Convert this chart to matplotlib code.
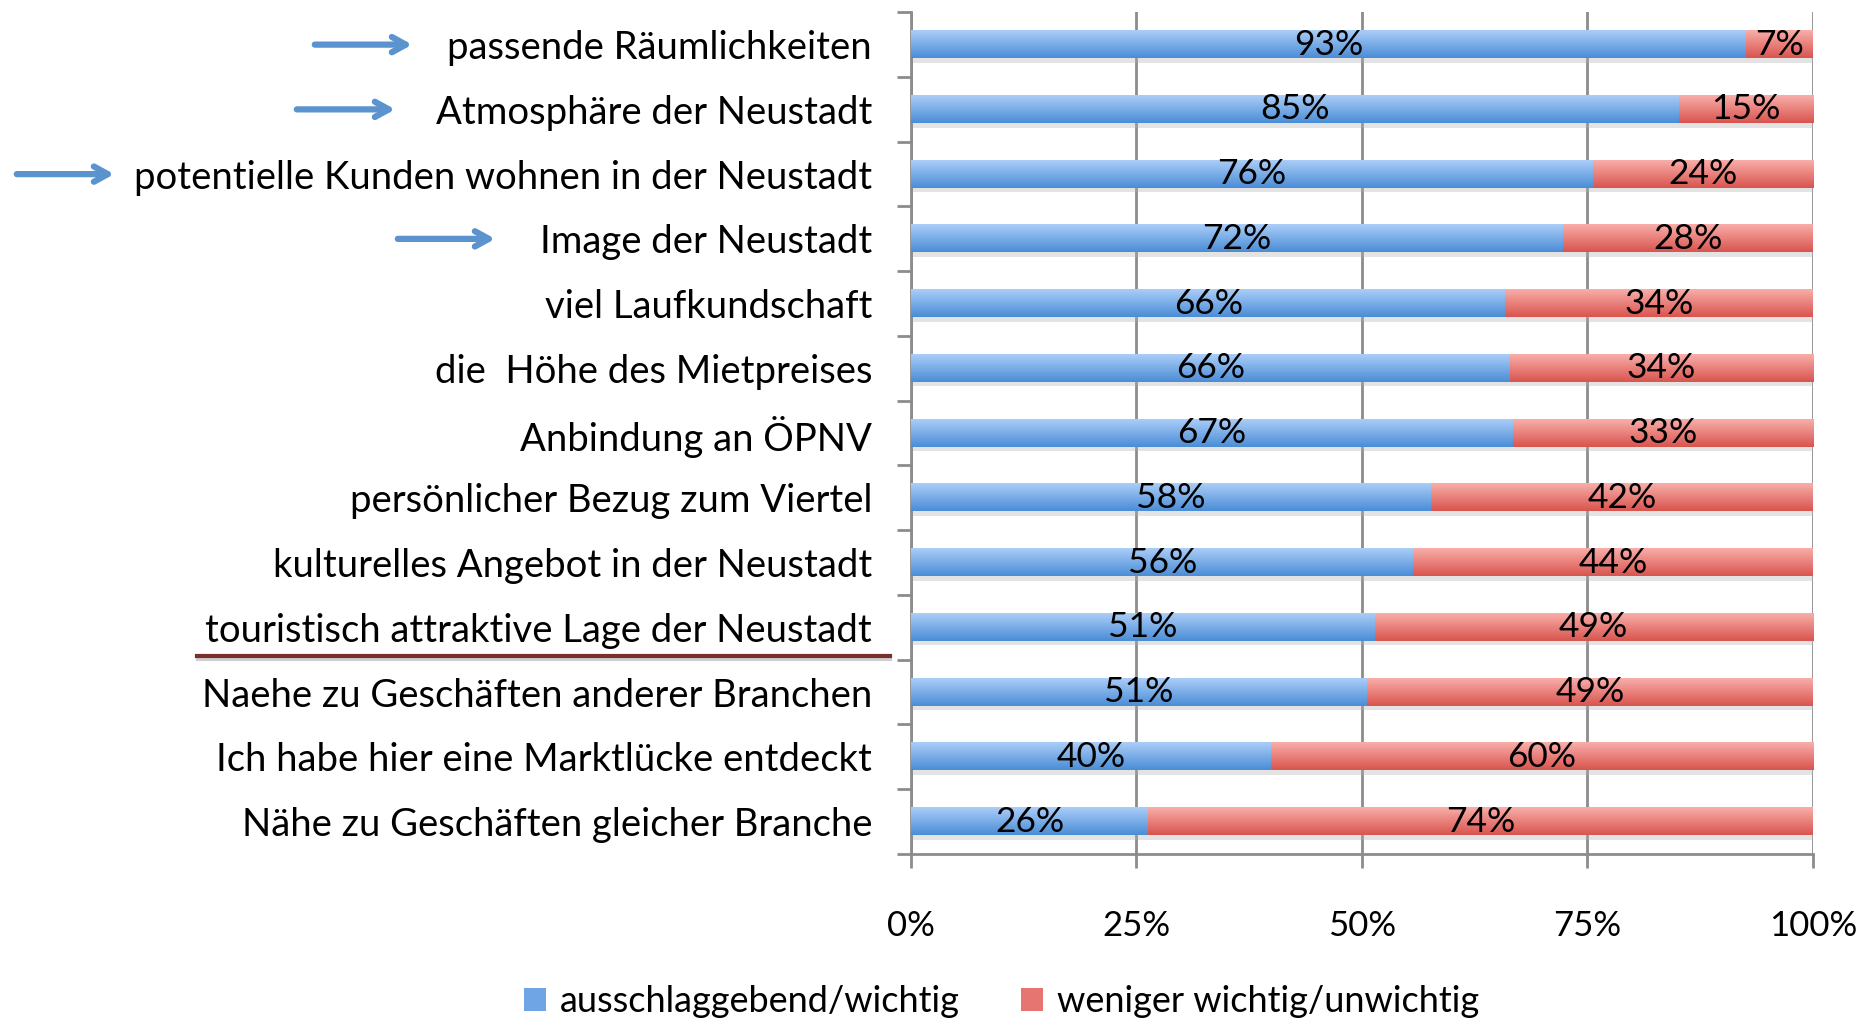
import numpy as np
import matplotlib
matplotlib.use("Agg")
import matplotlib.pyplot as plt
from matplotlib.patches import Patch
from matplotlib.lines import Line2D
from matplotlib.colors import to_rgb

plt.rcParams['font.family'] = ['Lato', 'DejaVu Sans']

categories = ["passende Räumlichkeiten",
              "Atmosphäre der Neustadt",
              "potentielle Kunden wohnen in der Neustadt",
              "Image der Neustadt",
              "viel Laufkundschaft",
              "die  Höhe des Mietpreises",
              "Anbindung an ÖPNV",
              "persönlicher Bezug zum Viertel",
              "kulturelles Angebot in der Neustadt",
              "touristisch attraktive Lage der Neustadt",
              "Naehe zu Geschäften anderer Branchen",
              "Ich habe hier eine Marktlücke entdeckt",
              "Nähe zu Geschäften gleicher Branche"]
wichtig = [92.6, 85.1, 75.6, 72.3, 65.9, 66.4, 66.7, 57.7, 55.7, 51.4, 50.6, 39.9, 26.3]
unwichtig = [100 - v for v in wichtig]
series_names = ["ausschlaggebend/wichtig", "weniger wichtig/unwichtig"]
xticks = [0, 25, 50, 75, 100]
arrow_rows = [0, 1, 2, 3]
# arrow start/end, figure pixels
arrow_x = [(312, 415), (294, 398), (14, 117), (395, 498)]

blue_top, blue_bot = "#abcdf8", "#4a8dd6"
red_top, red_bot = "#f9aeaa", "#d9544e"

fig = plt.figure(figsize=(18.69, 10.21), dpi=100)
ax = fig.add_axes([0.4874, 0.1636, 0.4826, 0.8244])

y = np.arange(len(categories))
h = 0.42


def grad_img(c1, c2, n=64):
    a = np.array(to_rgb(c1))
    b = np.array(to_rgb(c2))
    t = np.linspace(0, 1, n)[:, None]
    return (a * (1 - t) + b * t)[:, None, :]


def gbar(left, width, top_c, bot_c):
    for yi, l, w in zip(y, left, width):
        # soft shadow
        ax.add_patch(plt.Rectangle((l, yi + h / 2 - 0.02), w, 0.09, color="#b0b0b0",
                                   alpha=0.35, lw=0, zorder=2))
        ax.imshow(grad_img(top_c, bot_c), extent=(l, l + w, yi + h / 2, yi - h / 2),
                  origin="upper", aspect="auto", zorder=3, interpolation="bilinear")


gbar([0] * len(y), wichtig, blue_top, blue_bot)
gbar(wichtig, unwichtig, red_top, red_bot)

for yi, a, b in zip(y, wichtig, unwichtig):
    ax.text(a / 2, yi, "%d%%" % round(a), ha="center", va="center", fontsize=25.5, zorder=5)
    ax.text(a + b / 2, yi, "%d%%" % round(b), ha="center", va="center", fontsize=25.5, zorder=5)

ax.set_xlim(0, 100)
ax.set_ylim(len(categories) - 0.5, -0.5)

ax.set_xticks(xticks)
ax.set_xticklabels(["%d%%" % v for v in xticks], fontsize=25)
ax.set_yticks(y)
ax.set_yticklabels(categories, fontsize=27.5)
ax.set_yticks(np.arange(len(categories) + 1) - 0.5, minor=True)
ax.tick_params(axis="y", which="major", length=0, pad=28)
ax.tick_params(axis="y", which="minor", length=10, width=2, color="#8c8c8c")
ax.tick_params(axis="x", length=10, width=2, color="#8c8c8c", pad=30)

ax.grid(axis="x", color="#8c8c8c", lw=2)
ax.set_axisbelow(True)
for s in ["top", "right"]:
    ax.spines[s].set_visible(False)
for s in ["left", "bottom"]:
    ax.spines[s].set_color("#8c8c8c")
    ax.spines[s].set_linewidth(2)

# arrows
W, H = 1869.0, 1021.0
for r, (x0, x1) in zip(arrow_rows, arrow_x):
    ax.annotate("", xy=(x1 / W, r), xycoords=("figure fraction", "data"),
                xytext=(x0 / W, r), textcoords=("figure fraction", "data"),
                arrowprops=dict(arrowstyle="->,head_length=1.0,head_width=0.55",
                                color="#5b93cf", lw=4.5), annotation_clip=False)

# underline
fig.add_artist(Line2D([198 / W, 890 / W], [1 - 659 / H, 1 - 659 / H], color="#cfcfcf", lw=3))
fig.add_artist(Line2D([197 / W, 890 / W], [1 - 656 / H, 1 - 656 / H], color="#7b2f2c", lw=3))

handles = [Patch(facecolor="#6fa5e4", edgecolor="none"),
           Patch(facecolor="#e67470", edgecolor="none")]
fig.legend(handles, series_names, loc="center", bbox_to_anchor=(0.536, 0.019), ncol=2,
           frameon=False, fontsize=26, handlelength=0.6, handleheight=0.6,
           handletextpad=0.4, columnspacing=1.7)

fig.savefig("out.png", dpi=100)
